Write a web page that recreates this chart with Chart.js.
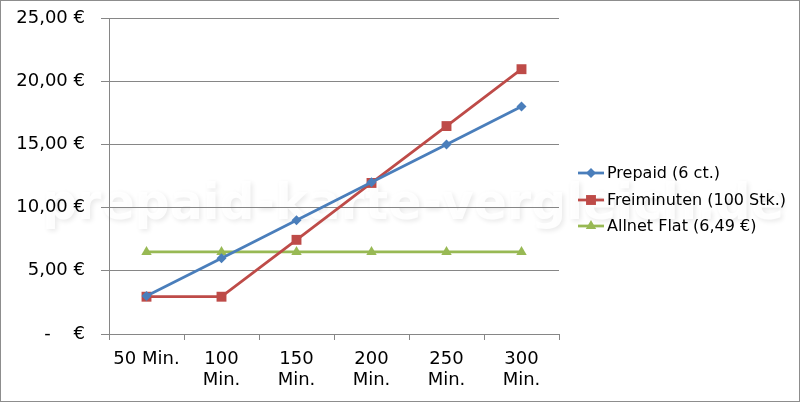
<!DOCTYPE html>
<html>
<head>
<meta charset="utf-8">
<script src="https://cdn.jsdelivr.net/npm/chart.js@4"></script>
<style>
    html, body { margin: 0; padding: 0; background: #fff; }
    #rahmen { width: 798px; height: 400px; border: 1px solid #8d8d8d; }
</style>
</head>
<body>
<div id="rahmen"><canvas id="grafik" width="798" height="400"></canvas></div>
<script>
// Daten
const kategorien = [["50 Min."], ["100", "Min."], ["150", "Min."], ["200", "Min."], ["250", "Min."], ["300", "Min."]];
const prepaid = [3, 6, 9, 12, 15, 18];
const freiminuten = [2.95, 2.95, 7.45, 11.95, 16.45, 20.95];
const allnetFlat = [6.49, 6.49, 6.49, 6.49, 6.49, 6.49];
const serienNamen = ["Prepaid (6 ct.)", "Freiminuten (100 Stk.)", "Allnet Flat (6,49 €)"];

const grau = "#868686";
const schrift = "'DejaVu Sans', Verdana, sans-serif";

// Wasserzeichen hinter allem
const wasserzeichen = {
    id: "wasserzeichen",
    beforeDraw(chart) {
        const ctx = chart.ctx;
        ctx.save();
        ctx.font = "bold 49px " + schrift;
        ctx.textAlign = "center";
        ctx.textBaseline = "alphabetic";
        ctx.shadowColor = "rgba(0,0,0,0.10)";
        ctx.shadowBlur = 5;
        ctx.shadowOffsetX = 2;
        ctx.shadowOffsetY = 2;
        ctx.fillStyle = "rgba(255,255,255,0.9)";
        ctx.fillText("prepaid-karte-vergleich.de", 412, 218);
        ctx.restore();
    }
};

// Legende im Excel-Stil (Linie + Marker)
const legende = {
    id: "legende",
    afterDraw(chart) {
        const ctx = chart.ctx;
        const zeilen = [172, 199, 225];
        ctx.save();
        chart.data.datasets.forEach((ds, i) => {
            const y = zeilen[i];
            ctx.strokeStyle = ds.borderColor;
            ctx.fillStyle = ds.backgroundColor;
            ctx.lineWidth = ds.borderWidth;
            ctx.beginPath();
            ctx.moveTo(577, y);
            ctx.lineTo(603, y);
            ctx.stroke();
            Chart.helpers.drawPoint(ctx, { pointStyle: ds.pointStyle, radius: ds.pointRadius, rotation: 0, borderWidth: 0 }, 590, y);
            ctx.fillStyle = "#000";
            ctx.font = "16px " + schrift;
            ctx.textBaseline = "middle";
            ctx.fillText(ds.label, 606, y + 1);
        });
        ctx.restore();
    }
};

function serie(label, werte, farbe, stil, radius) {
    return {
        label: label,
        data: werte,
        borderColor: farbe,
        backgroundColor: farbe,
        borderWidth: 2.75,
        pointStyle: stil,
        pointRadius: radius,
        pointBorderWidth: 0,
        pointBackgroundColor: farbe,
        tension: 0
    };
}

const grafik = new Chart(document.getElementById("grafik"), {
    type: "line",
    data: {
        labels: kategorien,
        datasets: [
            serie(serienNamen[0], prepaid, "#4a7ebb", "rectRot", 5),
            serie(serienNamen[1], freiminuten, "#be4b48", "rect", 7),
            serie(serienNamen[2], allnetFlat, "#98b954", "triangle", 6)
        ]
    },
    options: {
        responsive: false,
        animation: false,
        layout: { padding: { left: 0, right: 240, top: 17, bottom: 0 } },
        plugins: { legend: { display: false }, tooltip: { enabled: false } },
        scales: {
            x: {
                offset: true,
                grid: { offset: true, drawOnChartArea: false, color: grau, tickLength: 6 },
                border: { color: grau },
                ticks: { color: "#000", font: { family: schrift, size: 18, lineHeight: 1.17 }, padding: 9, maxRotation: 0, autoSkip: false },
                afterFit: (s) => { s.height = 67; }
            },
            y: {
                min: 0,
                max: 25,
                grid: { color: grau, tickLength: 8 },
                border: { color: grau },
                ticks: {
                    stepSize: 5,
                    padding: 16,
                    color: "#000",
                    font: { family: schrift, size: 18 },
                    callback: (v) => v === 0 ? "-\u00a0\u00a0\u00a0\u00a0€" : v.toFixed(2).replace(".", ",") + " €"
                },
                afterFit: (s) => { s.width = 108; s.paddingTop = 0; s.paddingBottom = 0; }
            }
        }
    },
    plugins: [wasserzeichen, legende]
});
</script>
</body>
</html>
